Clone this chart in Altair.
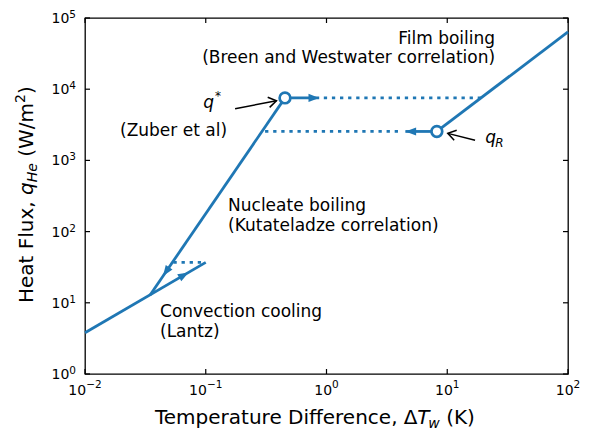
import math
import altair as alt
import pandas as pd

BLUE = "#1f77b4"
FONT = "DejaVu Sans"
W, H = 483, 356
XDOM = [0.01, 100]
YDOM = [1, 1e5]

# ---- data ----
conv_x = [0.01, 0.1]
conv_y = [3.8, 37]
nuc_x = [0.0345, 0.453]
nuc_y = [12.8, 7550]
film_x = [8.2, 100]
film_y = [2550, 64000]
markers_x = [0.453, 8.2]          # q*, q_R
markers_y = [7550, 2550]
solid_up_x = [0.453, 0.87]
solid_down_x = [8.2, 4.5]
dot_up_x = [0.95, 19]
dot_down_x = [0.31, 4.2]
dot_low_x = [0.054, 0.1]
low_y = 37

x_ticks = [0.01, 0.1, 1, 10, 100]
x_exp = ["−2", "−1", "0", "1", "2"]
y_ticks = [1, 10, 100, 1000, 10000, 100000]
y_exp = ["0", "1", "2", "3", "4", "5"]


def px(x):
    return (math.log10(x) - math.log10(XDOM[0])) / (math.log10(XDOM[1]) - math.log10(XDOM[0])) * W


def py(y):
    return H - (math.log10(y) - math.log10(YDOM[0])) / (math.log10(YDOM[1]) - math.log10(YDOM[0])) * H


def ang(x0, y0, x1, y1):
    return math.degrees(math.atan2(py(y1) - py(y0), px(x1) - px(x0))) % 360


def wid(s, size):
    table = {" ": 651, "(": 799, ")": 799, ",": 651, "/": 690, "H": 1540, "F": 1178, "T": 1251,
             "D": 1577, "K": 1343, "W": 2025, "Δ": 1300, "a": 1255, "c": 1126, "e": 1260, "f": 721,
             "i": 569, "l": 569, "m": 1995, "n": 1298, "p": 1300, "r": 842, "t": 803, "u": 1298,
             "x": 1212, "q": 1300, "w": 1675, "−": 1716, "0": 1303, "1": 1303, "2": 1303,
             "3": 1303, "4": 1303, "5": 1303}
    return sum(table.get(c, 1250) for c in s) / 2048 * size


xs = alt.Scale(type="log", domain=XDOM, nice=False)
ys = alt.Scale(type="log", domain=YDOM, nice=False)
X = alt.X("x:Q", scale=xs, axis=None)
Y = alt.Y("y:Q", scale=ys, axis=None)

# solid curves
rows = []
for seg, xx, yy in [("conv", conv_x, conv_y), ("nuc", nuc_x, nuc_y), ("film", film_x, film_y),
                    ("up", solid_up_x, [markers_y[0]] * 2), ("down", solid_down_x, [markers_y[1]] * 2)]:
    for a, b in zip(xx, yy):
        rows.append({"seg": seg, "x": a, "y": b})
solid = alt.Chart(pd.DataFrame(rows)).mark_line(color=BLUE, strokeWidth=2.8).encode(
    x=X, y=Y, detail="seg:N")

drows = []
for seg, xx, yv in [("up", dot_up_x, markers_y[0]), ("down", dot_down_x, markers_y[1]),
                    ("low", dot_low_x, low_y)]:
    for a in xx:
        drows.append({"seg": seg, "x": a, "y": yv})
dotted = alt.Chart(pd.DataFrame(drows)).mark_line(
    color=BLUE, strokeWidth=2.8, strokeDash=[3.3, 4.8], strokeCap="butt").encode(
    x=X, y=Y, detail="seg:N")

# blue arrow heads
heads = pd.DataFrame({
    "x": [solid_up_x[1], solid_down_x[1], 0.0443, 0.072],
    "y": [markers_y[0], markers_y[1], 23.7, 26.7],
    "a": [0, 180, ang(nuc_x[1], nuc_y[1], nuc_x[0], nuc_y[0]), ang(conv_x[0], conv_y[0], conv_x[1], conv_y[1])],
})
arrowheads = alt.Chart(heads).mark_point(
    shape="M0,0L-1,-0.38L-1,0.38Z", filled=True, color=BLUE, opacity=1, size=460).encode(
    x=X, y=Y, angle=alt.Angle("a:Q", scale=None))

markers = alt.Chart(pd.DataFrame({"x": markers_x, "y": markers_y})).mark_point(
    shape="circle", filled=False, fill="white", fillOpacity=1, stroke=BLUE, strokeWidth=2.7,
    opacity=1, size=115).encode(x=X, y=Y)

# black annotation arrows
ann = pd.DataFrame({
    "x": [0.175, 17.0], "y": [5320, 1918],
    "x2": [0.385, 10.1], "y2": [6870, 2397],
})
ann["a"] = [ang(r.x, r.y, r.x2, r.y2) for r in ann.itertuples()]
shafts = alt.Chart(ann).mark_rule(color="black", strokeWidth=1.5).encode(
    x=X, y=Y, x2="x2:Q", y2="y2:Q")
chevrons = alt.Chart(ann).mark_point(
    shape="M-1,-0.65L0,0L-1,0.65", filled=False, stroke="black", strokeWidth=1.5,
    opacity=1, size=250).encode(
    x=alt.X("x2:Q", scale=xs, axis=None), y=alt.Y("y2:Q", scale=ys, axis=None),
    angle=alt.Angle("a:Q", scale=None))

# region labels
left_txt = pd.DataFrame({
    "x": [0.153, 0.153, 0.0418, 0.0418],
    "y": [194.6, 103.6, 6.32, 3.36],
    "t": ["Nucleate boiling", "(Kutateladze correlation)", "Convection cooling", "(Lantz)"],
})
right_txt = pd.DataFrame({
    "x": [24.9, 24.9, 0.150],
    "y": [43150, 22960, 2202],
    "t": ["Film boiling", "(Breen and Westwater correlation)", "(Zuber et al)"],
})
TXT = dict(font=FONT, fontSize=17, color="black", baseline="alphabetic")
t_left = alt.Chart(left_txt).mark_text(align="left", **TXT).encode(x=X, y=Y, text="t:N")
t_right = alt.Chart(right_txt).mark_text(align="right", **TXT).encode(x=X, y=Y, text="t:N")

qstar_pt = pd.DataFrame({"x": [0.117], "y": [5445]})
qr_pt = pd.DataFrame({"x": [20.6], "y": [1755]})
q1 = alt.Chart(qstar_pt).mark_text(text="q", align="right", fontStyle="italic", **TXT).encode(x=X, y=Y)
q1s = alt.Chart(qstar_pt).mark_text(text="*", align="left", dx=1, dy=-8, font=FONT, fontSize=12,
                                    color="black", baseline="alphabetic").encode(x=X, y=Y)
q2 = alt.Chart(qr_pt).mark_text(text="q", align="left", fontStyle="italic", **TXT).encode(x=X, y=Y)
q2s = alt.Chart(qr_pt).mark_text(text="R", align="left", dx=10, dy=4, fontStyle="italic", font=FONT,
                                 fontSize=12, color="black", baseline="alphabetic").encode(x=X, y=Y)

# inward ticks on all four sides
xt = pd.DataFrame({"x": x_ticks})
yt = pd.DataFrame({"y": y_ticks})
TK = dict(color="black", strokeWidth=1.2)
tick_b = alt.Chart(xt).mark_rule(**TK).encode(x=X, y=alt.value(H), y2=alt.value(H - 5))
tick_t = alt.Chart(xt).mark_rule(**TK).encode(x=X, y=alt.value(0), y2=alt.value(5))
tick_l = alt.Chart(yt).mark_rule(**TK).encode(y=Y, x=alt.value(0), x2=alt.value(5))
tick_r = alt.Chart(yt).mark_rule(**TK).encode(y=Y, x=alt.value(W), x2=alt.value(W - 5))

# tick labels "10" + superscript exponent
BS, ES = 14, 10.5
wb = wid("10", BS)
xlabel_layers = []
xl = pd.DataFrame({"x": x_ticks, "e": x_exp})
for ew in sorted(set(round(wid(e, ES), 2) for e in x_exp)):
    sub = xl[[round(wid(e, ES), 2) == ew for e in xl["e"]]]
    off = -(wb + ew) / 2
    xlabel_layers.append(alt.Chart(sub).mark_text(
        align="left", baseline="alphabetic", font=FONT, fontSize=BS, color="black", text="10",
        dx=off).encode(x=X, y=alt.value(H + 21)))
    xlabel_layers.append(alt.Chart(sub).mark_text(
        align="left", baseline="alphabetic", font=FONT, fontSize=ES, color="black",
        dx=off + wb).encode(x=X, y=alt.value(H + 14), text="e:N"))

ylabel_layers = []
yl = pd.DataFrame({"y": y_ticks, "e": y_exp})
EXR = -9
ew = wid(y_exp[0], ES)
ylabel_layers.append(alt.Chart(yl).mark_text(
    align="right", baseline="alphabetic", font=FONT, fontSize=BS, color="black", text="10",
    dx=EXR - ew, dy=5).encode(y=Y, x=alt.value(0)))
ylabel_layers.append(alt.Chart(yl).mark_text(
    align="right", baseline="alphabetic", font=FONT, fontSize=ES, color="black",
    dx=EXR, dy=0).encode(y=Y, x=alt.value(0), text="e:N"))

# axis titles built from pieces (italic / sub / superscript)
one = alt.Data(values=[{}])
TF = 20
SUB = 14


def piece(text, x, y, size=TF, italic=False, angle=0):
    kw = dict(text=text, align="left", baseline="alphabetic", font=FONT, fontSize=size, color="black")
    if italic:
        kw["fontStyle"] = "italic"
    if angle:
        kw["angle"] = angle
    return alt.Chart(one).mark_text(**kw).encode(x=alt.value(x), y=alt.value(y))


# x title
xb = H + 50
x0 = 70
p1 = "Temperature Difference, Δ"
xt_parts = [piece(p1, x0, xb)]
x1 = x0 + wid(p1, TF) - 4
xt_parts.append(piece("T", x1, xb, italic=True))
x2 = x1 + wid("T", TF) - 1
xt_parts.append(piece("w", x2, xb + 4, size=SUB, italic=True))
x3 = x2 + wid("w", SUB) + wid(" ", TF)
xt_parts.append(piece("(K)", x3, xb))

# y title (rotated)
yb = -52
y0 = 285
yt_parts = []
s1 = "Heat Flux,"
yt_parts.append(piece(s1, yb, y0, angle=270))
y1 = y0 - wid(s1 + " ", TF)
yt_parts.append(piece("q", yb, y1, italic=True, angle=270))
y2 = y1 - wid("q", TF)
yt_parts.append(piece("He", yb + 4, y2, size=SUB, italic=True, angle=270))
y3 = y2 - wid("He", SUB) - wid(" ", TF)
s4 = "(W/m"
yt_parts.append(piece(s4, yb, y3, angle=270))
y4 = y3 - wid(s4, TF)
yt_parts.append(piece("2", yb - 8, y4, size=SUB, angle=270))
y5 = y4 - wid("2", SUB)
yt_parts.append(piece(")", yb, y5, angle=270))

chart = alt.layer(
    dotted, solid, arrowheads, markers, shafts, chevrons, t_left, t_right, q1, q1s, q2, q2s,
    tick_b, tick_t, tick_l, tick_r, *xlabel_layers, *ylabel_layers,
    *xt_parts, *yt_parts,
).properties(
    width=W, height=H,
    autosize=alt.AutoSizeParams(type="none"),
    padding={"left": 77, "top": 10, "right": 20, "bottom": 60},
).configure_view(
    stroke="black", strokeWidth=1.3
)

chart.save("out.html", embed_options={"renderer": "svg", "actions": False})
